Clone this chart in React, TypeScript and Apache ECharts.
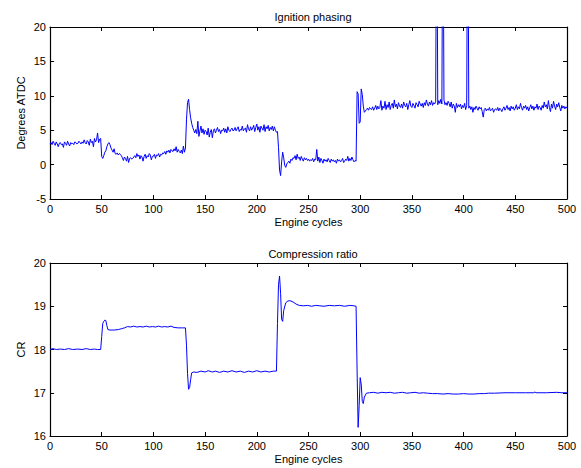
import React, { useEffect, useRef } from "react";
import * as echarts from "echarts";

// Ignition phasing (Degrees ATDC), one value per engine cycle 0..500
const ignition: number[] = [
  3.0,3.2,2.9,3.4,3.1,2.8,3.3,3.0,2.6,3.1,
  3.2,2.9,3.0,2.5,3.3,3.1,2.8,3.4,3.0,2.7,
  3.2,3.0,3.1,2.9,3.3,3.2,3.0,3.1,3.4,3.2,
  3.0,3.3,3.1,3.6,3.2,3.0,3.5,3.3,2.8,3.7,
  3.2,3.4,2.6,3.8,3.3,3.6,4.6,3.2,3.7,3.8,
  1.2,0.9,1.3,1.8,2.0,2.6,3.0,3.2,2.9,2.4,
  2.1,1.8,2.3,1.6,1.5,1.7,1.4,1.6,1.5,1.3,
  1.0,0.6,1.1,0.9,0.5,1.2,0.3,0.9,1.0,0.8,
  0.9,1.1,1.3,1.0,1.6,1.2,1.4,0.8,1.3,1.1,
  0.5,1.2,1.5,0.9,1.3,1.1,1.6,1.4,0.7,1.2,
  1.2,1.5,0.9,1.4,1.3,1.6,1.1,1.5,1.4,1.7,
  1.6,1.9,1.5,2.0,1.8,2.1,1.7,2.2,2.0,1.9,
  2.3,2.0,2.6,1.8,2.2,1.9,1.7,2.1,1.6,2.7,
  1.8,2.4,6.5,9.0,9.5,8.0,6.8,6.0,5.4,5.0,
  4.6,5.1,4.5,6.3,4.1,4.9,5.6,4.6,5.2,4.4,
  5.0,4.8,4.3,5.3,4.0,4.7,5.1,3.9,4.9,5.2,
  4.6,5.0,5.4,4.8,5.1,4.5,5.0,4.9,5.3,4.7,
  5.2,4.6,5.5,5.0,4.8,5.1,5.3,4.9,5.0,5.4,
  4.9,5.2,5.5,4.8,5.1,5.0,5.6,4.9,5.2,5.3,
  4.7,5.8,5.2,4.9,5.5,5.0,5.3,5.7,4.8,5.4,
  5.9,5.0,5.5,4.7,5.6,5.3,5.0,5.8,4.8,5.5,
  5.2,5.7,4.9,5.4,5.1,5.6,4.9,5.5,5.0,4.7,
  4.8,2.5,-0.8,-1.6,0.4,1.8,1.0,-0.1,-0.4,0.1,
  0.3,0.5,0.2,0.8,0.6,1.0,0.9,1.3,0.7,1.5,
  0.9,1.1,0.6,1.2,0.8,0.5,1.0,0.7,0.9,0.6,
  0.8,0.5,0.7,0.6,0.9,0.4,0.8,0.7,2.2,0.5,
  1.1,0.3,0.9,0.6,0.2,0.8,0.5,0.7,0.4,0.9,
  0.6,0.3,0.8,0.5,0.7,0.4,0.6,0.2,0.8,0.5,
  0.7,0.4,0.6,0.9,0.3,0.5,0.8,0.6,1.2,0.5,
  0.9,0.6,1.1,0.7,0.4,0.6,0.5,10.6,10.3,6.0,
  6.2,11.0,10.2,8.5,7.6,7.8,8.0,8.2,7.9,8.3,
  8.1,8.0,8.4,7.9,8.2,8.6,8.0,8.5,8.1,8.3,
  9.3,7.9,8.5,8.2,9.2,8.0,8.7,8.3,9.1,8.0,
  8.6,8.9,8.2,9.4,8.4,8.8,8.1,9.0,8.5,8.3,
  8.8,8.2,9.1,8.6,8.4,8.9,8.0,8.7,9.3,8.5,
  8.3,8.9,8.6,8.2,9.0,8.7,8.4,9.2,8.8,8.5,
  8.9,8.3,9.0,8.6,9.4,8.8,8.5,9.1,8.7,9.3,
  8.6,9.0,8.8,9.2,45,8.7,9.3,8.9,9.5,8.8,
  45,9.4,8.7,9.0,8.6,9.2,8.9,8.4,9.1,8.2,
  8.8,8.5,7.6,8.9,8.3,8.7,8.4,8.8,8.1,8.6,
  8.3,8.9,8.0,8.6,45,8.2,8.5,8.0,8.4,7.6,
  8.3,8.0,8.5,8.2,7.9,8.4,8.1,8.3,7.7,6.9,
  8.0,8.2,7.8,8.1,7.9,8.3,7.8,8.0,8.2,7.6,
  8.0,8.1,7.9,8.3,7.8,8.2,8.0,7.7,8.1,8.4,
  7.9,8.2,8.6,8.0,8.3,7.8,8.5,8.1,8.4,7.9,
  8.2,8.7,8.0,8.4,8.1,8.9,8.3,7.9,8.5,8.2,
  8.6,8.0,8.4,7.8,8.3,8.7,8.1,8.5,7.9,8.4,
  8.2,8.8,8.0,8.5,8.3,7.9,8.6,8.2,9.1,8.4,
  8.7,8.1,9.3,8.3,7.7,8.8,8.2,9.2,8.5,8.0,
  8.8,8.4,9.0,8.3,7.8,8.6,8.2,8.5,8.1,8.4,
  8.2,
];

// Compression ratio: cycles and values (read at the cycles where the trace changes)
const crCycles: number[] = [
  0,3,6,10,14,18,22,27,31,35,39,43,46,49,
  50,51,52,53,54,55,56,58,62,66,69,72,75,78,81,84,87,90,93,96,99,102,105,108,111,114,117,120,124,128,131,
  132,133,134,135,136,137,139,142,146,150,153,157,160,164,168,172,176,180,184,188,192,196,200,204,208,212,216,219,
  220,221,222,223,224,225,226,228,230,232,235,238,241,245,249,253,257,261,265,270,275,280,285,290,294,296,
  297,298,299,300,301,302,303,304,306,309,313,317,321,325,329,333,337,341,345,349,353,357,361,365,370,375,380,385,390,395,400,405,410,415,420,424,430,440,450,460,468,469,470,480,490,495,500,
];
const crValues: number[] = [
  18.0,18.02,18.0,18.01,18.0,18.02,18.0,18.01,18.0,18.02,18.0,18.01,18.0,18.0,
  18.3,18.6,18.65,18.68,18.67,18.55,18.46,18.45,18.45,18.46,18.48,18.5,18.53,18.52,18.54,18.52,18.53,18.52,18.54,18.52,18.53,18.52,18.54,18.52,18.53,18.52,18.54,18.51,18.5,18.5,18.5,
  18.1,17.45,17.08,17.12,17.3,17.46,17.48,17.47,17.5,17.48,17.51,17.48,17.5,17.47,17.5,17.48,17.51,17.48,17.5,17.47,17.5,17.48,17.51,17.48,17.5,17.48,17.5,17.5,
  18.6,19.5,19.7,19.3,18.7,18.65,18.9,19.08,19.12,19.13,19.1,19.05,19.02,19.01,19.02,19.0,19.02,19.01,19.0,19.02,19.01,19.02,19.0,19.02,19.01,19.0,
  17.5,16.2,16.7,17.35,17.2,16.8,16.75,16.9,16.99,17.0,17.01,16.99,17.01,17.0,17.01,16.99,17.0,17.01,16.99,17.0,17.01,16.99,17.0,16.99,16.98,16.98,16.97,16.98,16.97,16.97,16.98,16.97,16.97,16.98,16.98,16.99,16.99,17.0,17.0,17.0,17.0,17.02,17.0,17.0,17.01,17.0,17.0,
];

const titles = ["Ignition phasing", "Compression ratio"];
const yNames = ["Degrees ATDC", "CR"];
const xName = "Engine cycles";

const FONT = "Liberation Sans, Arial, sans-serif";
const TXT = "#000";

export default function App() {
  const ref = useRef<HTMLDivElement>(null);
  useEffect(() => {
    if (!ref.current) return;
    const chart = echarts.init(ref.current, undefined, { renderer: "svg" });
    const grids = [
      { left: 50, top: 27, width: 517, height: 172 },
      { left: 50, top: 263, width: 517, height: 173 },
    ];
    const yRanges = [
      { min: -5, max: 20, interval: 5 },
      { min: 16, max: 20, interval: 1 },
    ];
    const axisLine = { show: true, onZero: false, lineStyle: { color: "#000", width: 1.2 } };
    const tick = { show: true, inside: true, length: 4, lineStyle: { color: "#000" } };
    const xAxis: any[] = [];
    const yAxis: any[] = [];
    grids.forEach((_, g) => {
      xAxis.push({
        type: "value", gridIndex: g, min: 0, max: 500, interval: 50, position: "bottom",
        axisLine, axisTick: tick, splitLine: { show: false },
        axisLabel: { color: TXT, fontSize: 11, fontFamily: FONT, margin: 4 },
        name: xName, nameLocation: "middle", nameGap: 17, nameMoveOverlap: false,
        nameTextStyle: { color: TXT, fontSize: 11, fontFamily: FONT },
      });
      xAxis.push({
        type: "value", gridIndex: g, min: 0, max: 500, interval: 50, position: "top",
        axisLine, axisTick: tick, splitLine: { show: false }, axisLabel: { show: false },
      });
      yAxis.push({
        type: "value", gridIndex: g, ...yRanges[g], position: "left",
        axisLine, axisTick: tick, splitLine: { show: false },
        axisLabel: { color: TXT, fontSize: 11, fontFamily: FONT, margin: 4 },
        name: yNames[g], nameLocation: "middle", nameGap: 24, nameMoveOverlap: false,
        nameTextStyle: { color: TXT, fontSize: 11, fontFamily: FONT },
      });
      yAxis.push({
        type: "value", gridIndex: g, ...yRanges[g], position: "right",
        axisLine, axisTick: tick, splitLine: { show: false }, axisLabel: { show: false },
      });
    });
    chart.setOption({
      animation: false,
      backgroundColor: "#fff",
      title: [
        { text: titles[0], left: 308, top: 6, textAlign: "center",
          textStyle: { color: TXT, fontSize: 11, fontWeight: "normal", fontFamily: FONT } },
        { text: titles[1], left: 308, top: 243, textAlign: "center",
          textStyle: { color: TXT, fontSize: 11, fontWeight: "normal", fontFamily: FONT } },
      ],
      grid: grids,
      xAxis,
      yAxis,
      series: [
        {
          type: "line", xAxisIndex: 0, yAxisIndex: 0, clip: true,
          data: ignition.map((v, i) => [i, v]),
          showSymbol: false, lineStyle: { color: "#0000ff", width: 1 },
        },
        {
          type: "line", xAxisIndex: 2, yAxisIndex: 2, clip: true,
          data: crCycles.map((c, i) => [c, crValues[i]]),
          showSymbol: false, lineStyle: { color: "#0000ff", width: 1 },
        },
      ],
    });
    return () => chart.dispose();
  }, []);
  return (
    <div
      ref={ref}
      style={{ position: "fixed", left: 0, top: 0, width: 581, height: 468, background: "#fff" }}
    />
  );
}
